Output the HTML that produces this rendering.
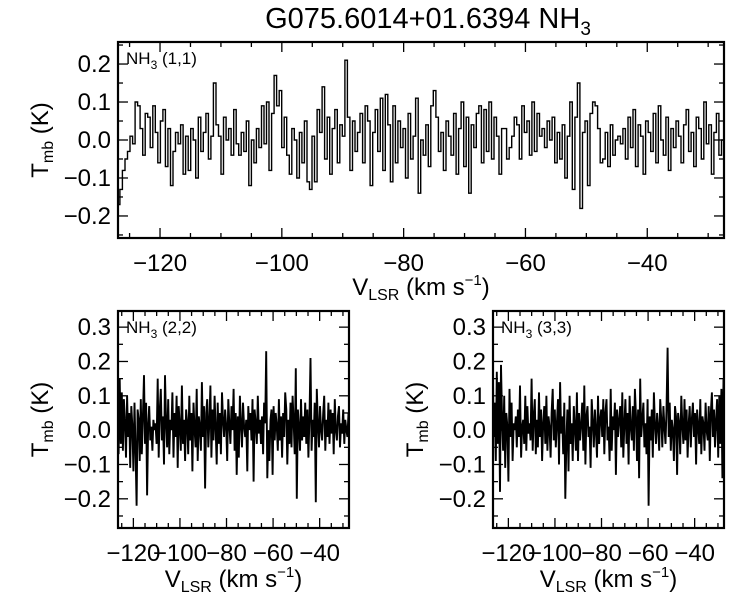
<!DOCTYPE html>
<html><head><meta charset="utf-8"><style>
body{margin:0;background:#fff;}
svg{display:block;font-family:"Liberation Sans",Helvetica,sans-serif;}
</style></head><body>
<svg id="fig" width="750" height="600"></svg>
<script>
const velStart = -127, velEnd = -27.4;
const tmb11 = [-0.17,-0.13,-0.08,-0.05,-0.03,0.01,-0.01,0.10,0.09,0.03,-0.04,0.07,0.06,-0.02,0.09,0.02,-0.06,0.05,0.08,-0.07,
0.03,-0.12,-0.03,0.02,-0.01,0.04,-0.09,0.01,-0.08,0.03,0.00,-0.10,0.06,-0.03,0.02,0.07,-0.05,0.01,0.15,0.04,
0.01,-0.09,0.06,0.00,0.03,-0.04,0.08,-0.01,-0.04,0.02,-0.03,0.05,-0.12,0.00,-0.06,0.03,-0.02,0.09,-0.01,0.10,
-0.08,0.07,0.17,0.09,0.13,-0.02,0.06,-0.04,-0.09,0.03,0.00,-0.10,0.02,-0.06,0.05,-0.11,-0.13,0.01,-0.11,0.08,
0.02,0.14,-0.05,0.06,-0.09,0.03,0.08,-0.06,0.04,0.01,0.21,0.06,-0.08,0.05,-0.03,0.02,0.07,-0.06,0.09,0.05,
-0.12,0.02,0.08,-0.03,0.11,-0.08,0.12,0.04,-0.11,0.09,-0.06,0.05,-0.02,0.03,-0.10,0.07,-0.05,0.01,0.11,-0.14,
0.00,-0.04,0.04,-0.07,0.09,0.13,0.06,-0.03,0.02,-0.08,0.05,0.01,-0.04,0.07,-0.09,0.03,0.10,-0.07,0.06,-0.14,
0.04,-0.02,0.07,0.09,-0.06,0.08,-0.03,0.10,-0.05,0.06,0.01,-0.09,0.03,0.03,-0.05,-0.02,0.01,0.06,0.04,-0.05,
0.09,0.02,0.05,-0.04,0.10,-0.03,0.07,0.01,0.03,-0.02,0.05,0.00,0.06,-0.06,0.02,-0.05,0.04,-0.10,0.01,0.10,
-0.13,0.06,0.15,-0.18,0.02,0.05,-0.12,0.07,0.10,0.09,0.03,-0.06,-0.05,0.02,-0.07,0.04,-0.04,0.00,0.01,-0.01,
0.03,-0.05,0.06,-0.02,0.08,-0.07,0.04,0.01,-0.09,0.05,0.02,-0.03,0.07,-0.06,0.09,0.00,-0.04,0.06,-0.08,0.03,
-0.02,0.05,0.01,-0.06,0.04,0.08,-0.03,0.02,-0.07,0.06,0.03,-0.05,0.10,-0.01,0.04,-0.09,0.02,0.07,-0.04,0.00];
const tmb22 = [0.08,-0.07,0.15,-0.04,0.11,-0.06,0.09,0.02,-0.08,0.10,-0.02,0.05,-0.11,0.07,0.01,-0.12,0.08,-0.05,-0.22,0.06,
0.03,-0.09,0.09,-0.07,0.04,0.16,-0.04,0.08,-0.19,0.02,0.07,-0.03,0.01,-0.06,0.03,0.00,0.02,-0.04,0.15,-0.08,
0.06,0.12,-0.03,0.04,-0.10,0.16,0.02,-0.05,0.09,-0.07,0.03,0.00,0.11,-0.08,0.05,-0.02,0.10,-0.11,0.07,0.01,
-0.06,0.13,-0.04,0.03,-0.09,0.06,0.02,-0.07,0.10,-0.03,0.05,-0.12,0.08,0.00,-0.05,0.12,-0.09,0.04,0.01,-0.06,
0.14,-0.02,0.07,-0.17,0.05,0.09,-0.05,0.02,0.13,-0.08,0.06,-0.03,0.10,0.01,-0.10,0.08,-0.04,0.05,-0.07,0.11,
0.03,-0.02,0.06,0.01,-0.09,0.09,0.02,-0.04,0.07,0.00,0.12,-0.06,0.05,-0.13,0.04,-0.08,0.10,0.02,-0.05,0.08,
0.01,-0.02,0.03,-0.12,0.07,0.00,0.05,-0.03,0.09,-0.15,0.06,0.02,-0.04,0.10,-0.01,0.03,-0.04,0.04,-0.07,0.08,
0.02,0.23,-0.14,0.00,-0.09,0.03,0.06,-0.13,0.07,-0.03,0.05,0.01,-0.06,0.09,-0.03,0.04,-0.08,0.05,-0.02,0.11,
0.06,-0.10,0.03,-0.04,0.08,-0.05,0.10,0.02,-0.07,0.18,-0.20,0.06,0.01,-0.06,0.09,-0.03,0.04,-0.02,0.08,-0.04,
0.06,-0.08,0.04,0.21,-0.06,0.03,-0.02,0.08,-0.21,0.12,0.02,-0.05,0.07,0.00,-0.03,0.05,0.10,-0.06,0.03,-0.02,
0.08,-0.04,0.06,-0.01,0.05,-0.07,0.09,0.00,-0.03,0.04,0.07,-0.05,0.02,-0.01,0.06,-0.04,0.03,0.00,-0.02,0.05];
const tmb33 = [0.25,-0.02,0.08,-0.09,0.17,-0.04,0.14,-0.18,0.19,0.03,-0.06,0.10,-0.11,0.05,0.01,-0.15,0.12,-0.02,0.08,-0.09,
0.02,0.00,0.04,-0.05,0.06,-0.02,0.13,-0.08,0.01,0.03,-0.04,0.10,-0.06,0.07,-0.01,0.02,-0.03,0.15,-0.06,0.04,
0.09,-0.07,0.03,-0.05,0.11,-0.02,0.06,-0.09,0.02,0.07,-0.04,0.10,-0.06,0.04,0.01,-0.08,0.05,0.12,-0.03,0.06,
-0.05,0.02,0.09,-0.10,0.14,-0.01,0.04,-0.07,0.08,-0.20,-0.03,0.06,-0.12,0.10,-0.04,0.02,-0.09,0.07,0.01,-0.06,
0.11,-0.09,0.05,-0.03,0.02,0.08,-0.06,0.13,-0.10,0.04,0.07,-0.02,0.01,-0.11,0.09,0.03,-0.05,0.06,0.00,-0.08,
0.10,-0.04,0.03,0.06,-0.02,0.09,-0.07,0.05,0.09,-0.03,0.01,-0.09,0.12,-0.06,0.04,0.00,0.08,-0.13,0.06,-0.02,
0.03,0.07,-0.05,0.11,-0.08,0.02,0.09,-0.04,0.05,-0.10,0.10,0.01,-0.03,0.07,-0.06,0.12,0.04,-0.09,0.06,-0.14,
0.15,-0.02,0.03,0.08,-0.05,0.02,-0.07,0.09,-0.22,0.04,-0.03,0.06,-0.08,0.11,0.02,-0.04,0.05,0.01,-0.06,0.09,
0.03,-0.05,0.07,0.01,-0.04,0.06,0.24,-0.02,0.08,-0.06,0.03,0.00,-0.09,0.07,0.04,-0.13,0.05,0.02,-0.07,0.10,
0.01,-0.04,0.09,-0.03,0.06,-0.08,0.02,0.07,-0.05,0.03,0.08,-0.02,0.05,-0.10,0.06,0.01,-0.04,0.09,-0.07,0.04,
0.02,-0.06,0.08,0.00,-0.03,0.07,-0.09,0.05,0.11,-0.02,0.06,-0.05,0.03,0.09,-0.08,0.10,-0.04,0.12,-0.14,0.15];
const xTicks = [-120,-100,-80,-60,-40];
const yTicksTop = [-0.2,-0.1,0.0,0.1,0.2];
const yTicksBot = [-0.2,-0.1,0.0,0.1,0.2,0.3];

const NS="http://www.w3.org/2000/svg";
const svg=document.getElementById('fig');
function mk(tag,attrs,parent){const e=document.createElementNS(NS,tag);for(const k in attrs)e.setAttribute(k,attrs[k]);(parent||svg).appendChild(e);return e;}
function fmt(v){return (v<0?'\u2212':'')+Math.abs(v).toFixed(1);}
function fmtX(v){return (v<0?'\u2212':'')+Math.abs(v);}

function panel(opts){
  const {L,R,T,B,xmin,xmax,ymin,ymax,data,step,yTicks,label,name,fs,xlabY,ylabX}=opts;
  const sx=v=>L+(v-xmin)/(xmax-xmin)*(R-L);
  const sy=v=>B-(v-ymin)/(ymax-ymin)*(B-T);
  const dv=(velEnd-velStart)/data.length;
  const g=mk('g',{});
  
  
  let d='';
  data.forEach((v,i)=>{
    const x0=velStart+i*dv, x1=x0+dv;
    if(step){
      d+=(i===0?'M':'L')+sx(x0).toFixed(1)+','+sy(v).toFixed(1)+'L'+sx(x1).toFixed(1)+','+sy(v).toFixed(1);
    } else {
      d+=(i===0?'M':'L')+sx(x0+dv/2).toFixed(1)+','+sy(v).toFixed(1);
    }
  });
  const cp=mk('clipPath',{id:'clip-'+name},g);mk('rect',{x:L,y:T,width:R-L,height:B-T},cp);
  const p=mk('path',{d:d,fill:'none',stroke:'#000','stroke-width':step?1.4:1.9,'stroke-linejoin':'miter','clip-path':'url(#clip-'+name+')'},g);
  
  
  const fr=mk('rect',{x:L,y:T,width:R-L,height:B-T,fill:'none',stroke:'#000','stroke-width':2.2},g);
  
  
  for(let v=-125;v<=xmax;v+=5){
    const major=v%20===0, len=major?10:5, x=sx(v);
    mk('line',{x1:x,x2:x,y1:B,y2:B-len,stroke:'#000','stroke-width':1.3},g);
    mk('line',{x1:x,x2:x,y1:T,y2:T+len,stroke:'#000','stroke-width':1.3},g);
  }
  xTicks.forEach(v=>{
    const t=mk('text',{x:sx(v),y:B+33,'font-size':fs,'text-anchor':'middle'},g);t.textContent=fmtX(v);
    
    
  });
  for(let k=Math.ceil(ymin/0.05);k*0.05<=ymax;k++){
    const v=k*0.05, major=(k%2===0), len=major?10:5, y=sy(v);
    mk('line',{x1:L,x2:L+len,y1:y,y2:y,stroke:'#000','stroke-width':1.3},g);
    mk('line',{x1:R,x2:R-len,y1:y,y2:y,stroke:'#000','stroke-width':1.3},g);
  }
  yTicks.forEach(v=>{
    const t=mk('text',{x:L-7,y:sy(v)+8,'font-size':fs,'text-anchor':'end'},g);t.textContent=fmt(v);
    
    
  });
  const lb=mk('text',{x:L+8,y:T+22,'font-size':17},g);
  lb.innerHTML='NH<tspan font-size="12" dy="5">3</tspan><tspan dy="-5"> '+label+'</tspan>';
  
  
  const xt=mk('text',{x:(L+R)/2,y:xlabY,'font-size':24,'text-anchor':'middle'},g);
  xt.innerHTML='V<tspan font-size="16" dy="5">LSR</tspan><tspan dy="-5"> (km s</tspan><tspan font-size="15" dy="-10">\u22121</tspan><tspan dy="10">)</tspan>';
  
  
  const yt=mk('text',{transform:'translate('+ylabX+','+((T+B)/2)+') rotate(-90)','font-size':24,'text-anchor':'middle'},g);
  yt.innerHTML='T<tspan font-size="16" dy="5">mb</tspan><tspan dy="-5"> (K)</tspan>';
  
  
}

const title=mk('text',{x:428,y:28,'font-size':29,'text-anchor':'middle'});
title.innerHTML='G075.6014+01.6394 NH<tspan font-size="19" dy="7">3</tspan>';



panel({L:118,R:724,T:42,B:238,xmin:-126.9,xmax:-27.4,ymin:-0.258,ymax:0.258,data:tmb11,step:true,yTicks:yTicksTop,label:'(1,1)',name:'nh3-11',fs:24,xlabY:295,ylabX:48});
panel({L:118,R:349,T:311,B:528,xmin:-126.6,xmax:-27.4,ymin:-0.285,ymax:0.347,data:tmb22,step:false,yTicks:yTicksBot,label:'(2,2)',name:'nh3-22',fs:24,xlabY:587,ylabX:48});
panel({L:493,R:724,T:311,B:528,xmin:-126.6,xmax:-27.4,ymin:-0.285,ymax:0.347,data:tmb33,step:false,yTicks:yTicksBot,label:'(3,3)',name:'nh3-33',fs:24,xlabY:587,ylabX:423});
</script>
</body></html>
